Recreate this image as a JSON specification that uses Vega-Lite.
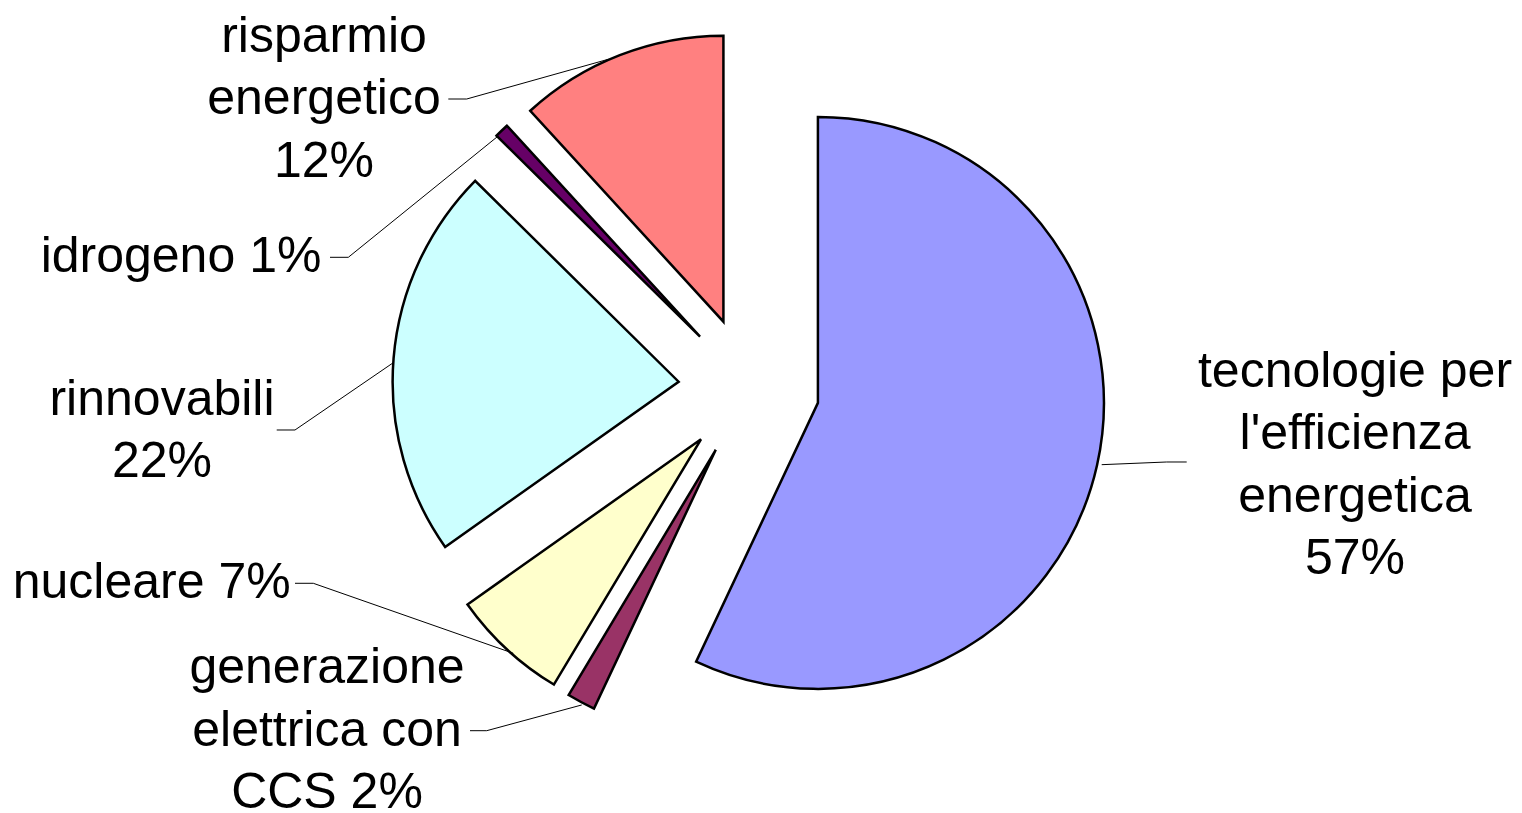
{
  "$schema": "https://vega.github.io/schema/vega-lite/v6.json",
  "width": 1522,
  "height": 813,
  "autosize": "none",
  "padding": 0,
  "background": "white",
  "config": {"view": {"stroke": null}},
  "datasets": {
    "slices": [
      {"order": 1, "category": "tecnologie per l'efficienza energetica", "value": 57.0},
      {"order": 2, "category": "generazione elettrica con CCS", "value": 1.6},
      {"order": 3, "category": "nucleare", "value": 6.6},
      {"order": 4, "category": "rinnovabili", "value": 22.2},
      {"order": 5, "category": "idrogeno", "value": 0.8},
      {"order": 6, "category": "risparmio energetico", "value": 11.8}
    ],
    "labels": [
      {"category": "tecnologie per l'efficienza energetica", "label": "tecnologie per\nl'efficienza\nenergetica\n57%", "lx": 2.1189, "ly": 0.0555},
      {"category": "generazione elettrica con CCS", "label": "generazione\nelettrica con\nCCS 2%", "lx": -1.4755, "ly": -0.9825},
      {"category": "nucleare", "label": "nucleare 7%", "lx": -2.0885, "ly": -0.6846},
      {"category": "rinnovabili", "label": "rinnovabili\n22%", "lx": -2.0524, "ly": -0.0437},
      {"category": "idrogeno", "label": "idrogeno 1%", "lx": -1.9860, "ly": 0.4552},
      {"category": "risparmio energetico", "label": "risparmio\nenergetico\n12%", "lx": -1.4860, "ly": 1.2266}
    ],
    "leaders": [
      {"category": "tecnologie per l'efficienza energetica", "i": 0, "px": 1.2332, "py": -0.2699},
      {"category": "tecnologie per l'efficienza energetica", "i": 1, "px": 1.4605, "py": -0.2605},
      {"category": "tecnologie per l'efficienza energetica", "i": 2, "px": 1.5304, "py": -0.2605},
      {"category": "generazione elettrica con CCS", "i": 0, "px": -0.9755, "py": -1.2000},
      {"category": "generazione elettrica con CCS", "i": 1, "px": -0.9171, "py": -1.2000},
      {"category": "generazione elettrica con CCS", "i": 2, "px": -0.5850, "py": -1.1101},
      {"category": "nucleare", "i": 0, "px": -1.5874, "py": -0.6846},
      {"category": "nucleare", "i": 1, "px": -1.5234, "py": -0.6846},
      {"category": "nucleare", "i": 2, "px": -0.8241, "py": -0.9294},
      {"category": "rinnovabili", "i": 0, "px": -1.6514, "py": -0.1486},
      {"category": "rinnovabili", "i": 1, "px": -1.5874, "py": -0.1486},
      {"category": "rinnovabili", "i": 2, "px": -1.2437, "py": 0.0867},
      {"category": "idrogeno", "i": 0, "px": -1.4650, "py": 0.4552},
      {"category": "idrogeno", "i": 1, "px": -1.4010, "py": 0.4552},
      {"category": "idrogeno", "i": 2, "px": -0.8811, "py": 0.8759},
      {"category": "risparmio energetico", "i": 0, "px": -1.0514, "py": 1.0087},
      {"category": "risparmio energetico", "i": 1, "px": -0.9871, "py": 1.0087},
      {"category": "risparmio energetico", "i": 2, "px": -0.4920, "py": 1.1476}
    ]
  },
  "layer": [
    {
      "data": {"name": "slices"},
      "transform": [
        {"stack": "value", "groupby": [], "offset": "normalize", "sort": [{"field": "order", "order": "ascending"}], "as": ["t0", "t1"]},
        {"calculate": "0.2469 * sin((datum.t0 + datum.t1) * PI)", "as": "ex"},
        {"calculate": "0.2469 * cos((datum.t0 + datum.t1) * PI)", "as": "ey"}
      ],
      "mark": {"type": "arc", "radius": 286, "stroke": "#000000", "strokeWidth": 2.5, "strokeJoin": "miter"},
      "encoding": {
        "theta": {"field": "t0", "type": "quantitative", "scale": {"domain": [0, 1], "zero": true}},
        "theta2": {"field": "t1"},
        "x": {"field": "ex", "type": "quantitative", "scale": {"domain": [-2.6189, 2.7028], "nice": false, "zero": false}, "axis": null},
        "y": {"field": "ey", "type": "quantitative", "scale": {"domain": [-1.4878, 1.3549], "nice": false, "zero": false}, "axis": null},
        "color": {
          "field": "category",
          "type": "nominal",
          "scale": {
            "domain": ["tecnologie per l'efficienza energetica", "generazione elettrica con CCS", "nucleare", "rinnovabili", "idrogeno", "risparmio energetico"],
            "range": ["#9999FF", "#993366", "#FFFFCC", "#CCFFFF", "#660066", "#FF8080"]
          },
          "legend": null
        },
        "tooltip": [{"field": "category", "type": "nominal"}, {"field": "value", "type": "quantitative"}]
      }
    },
    {
      "data": {"name": "leaders"},
      "mark": {"type": "line", "stroke": "#000000", "strokeWidth": 1},
      "encoding": {
        "x": {"field": "px", "type": "quantitative", "scale": {"domain": [-2.6189, 2.7028], "nice": false, "zero": false}, "axis": null},
        "y": {"field": "py", "type": "quantitative", "scale": {"domain": [-1.4878, 1.3549], "nice": false, "zero": false}, "axis": null},
        "detail": {"field": "category", "type": "nominal"},
        "order": {"field": "i", "type": "quantitative"}
      }
    },
    {
      "data": {"name": "labels"},
      "mark": {"type": "text", "font": "Liberation Sans", "fontSize": 50, "lineHeight": 62.5, "lineBreak": "\n", "align": "center", "baseline": "middle", "color": "#000000"},
      "encoding": {
        "x": {"field": "lx", "type": "quantitative", "scale": {"domain": [-2.6189, 2.7028], "nice": false, "zero": false}, "axis": null},
        "y": {"field": "ly", "type": "quantitative", "scale": {"domain": [-1.4878, 1.3549], "nice": false, "zero": false}, "axis": null},
        "text": {"field": "label", "type": "nominal"}
      }
    }
  ]
}
